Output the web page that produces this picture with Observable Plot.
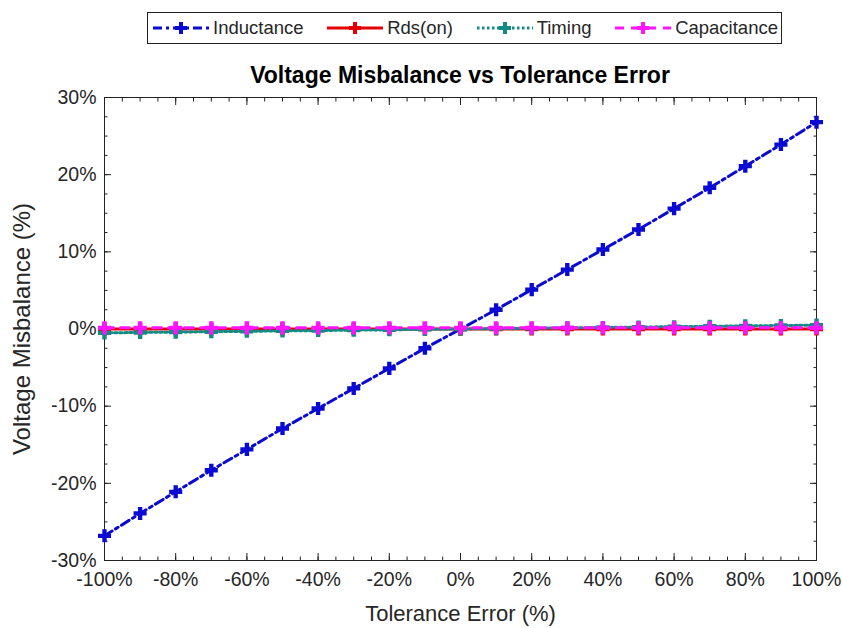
<!DOCTYPE html>
<html><head><meta charset="utf-8">
<script src="https://cdn.jsdelivr.net/npm/d3@7"></script>
<script src="https://cdn.jsdelivr.net/npm/@observablehq/plot@0.6"></script>
<style>
body{margin:0;background:#fff;font-family:"Liberation Sans",Arial,sans-serif;color:#262626;}
#wrap{width:843px;position:relative;}
#header{height:87px;position:relative;}
#legend{position:absolute;left:147px;top:12px;width:627px;height:30px;border:1px solid #222;display:flex;align-items:center;justify-content:space-between;box-sizing:content-box;padding:0 3px 0 3px;}
.item{display:flex;align-items:center;font-size:18.5px;white-space:nowrap;}
.item svg{margin-right:2px;}
#title{position:absolute;left:0;width:920px;top:61px;text-align:center;font-weight:bold;font-size:23px;line-height:28px;color:#000;}
g[aria-label="y-axis label"] text{font-size:24px;}
g[aria-label="x-axis label"] text{font-size:22px;}
</style></head>
<body><div id="wrap"><div id="header"><div id="legend"></div><div id="title">Voltage Misbalance vs Tolerance Error</div></div><div id="chart"></div></div>
<script>
const tolerance   = [-100,-90,-80,-70,-60,-50,-40,-30,-20,-10,0,10,20,30,40,50,60,70,80,90,100];
const inductance  = [-26.8,-23.9,-21.1,-18.3,-15.6,-12.9,-10.3,-7.7,-5.1,-2.5,0,2.5,5.1,7.7,10.3,12.9,15.6,18.3,21.1,23.9,26.8];
const rdsOn       = [0,0,0,0,0,0,0,0,0,0,0,0,0,0,0,0,0,0,0,0,0];
const timing      = [-0.5,-0.45,-0.4,-0.35,-0.3,-0.25,-0.2,-0.15,-0.1,-0.05,0,0.05,0.1,0.15,0.2,0.25,0.3,0.35,0.4,0.45,0.5];
const capacitance = [0.15,0.15,0.15,0.15,0.15,0.15,0.15,0.15,0.15,0.15,0.15,0.15,0.15,0.15,0.15,0.15,0.15,0.15,0.15,0.15,0.15];
const seriesNames = ["Inductance","Rds(on)","Timing","Capacitance"];
const seriesValues = [inductance, rdsOn, timing, capacitance];
const seriesColors = ["#0a0ad2","#e60000","#138a84","#ff14ff"];
const seriesDash = ["9,4,3,4","none","2.5,2.5","9,7"];
const xTicks = [-100,-80,-60,-40,-20,0,20,40,60,80,100];
const yTicks = [-30,-20,-10,0,10,20,30];
const xMinor = d3.range(-100,100.1,5);
const yMinor = d3.range(-30,30.1,2.5);

const rows = seriesNames.flatMap((name,i)=>tolerance.map((t,j)=>({series:name,x:t,y:seriesValues[i][j]})));

// legend
const legend = document.getElementById("legend");
seriesNames.forEach((name,i)=>{
  const it = document.createElement("div"); it.className="item";
  const dash = seriesDash[i]==="none"?"":`stroke-dasharray="${seriesDash[i]}"`;
  it.innerHTML = `<svg width="60" height="20"><line x1="2" x2="58" y1="10" y2="10" stroke="${seriesColors[i]}" stroke-width="3" ${dash}/><path transform="translate(30,10)" d="${d3.symbol(d3.symbolCross,80)()}" fill="${seriesColors[i]}"/></svg><span>${name}</span>`;
  legend.appendChild(it);
});

const marks = [];
marks.push(Plot.frame({stroke:"#222", strokeWidth:1}));
for (const anchor of ["left","right"]) {
  marks.push(Plot.axisY(yMinor,{anchor, tickSize:-3.5, text:null, label:null, stroke:"#222"}));
  marks.push(Plot.axisY(yTicks,{anchor, tickSize:-7, text:null, label:null, stroke:"#222"}));
}
for (const anchor of ["bottom","top"]) {
  marks.push(Plot.axisX(xMinor,{anchor, tickSize:-3.5, text:null, label:null, stroke:"#222"}));
  marks.push(Plot.axisX(xTicks,{anchor, tickSize:-7, text:null, label:null, stroke:"#222"}));
}
marks.push(Plot.axisY(yTicks,{anchor:"left", tickSize:0, tickPadding:8, tickFormat:d=>d+"%", label:"Voltage Misbalance (%)", labelAnchor:"center", labelArrow:"none", labelOffset:92, fill:"#262626", fontSize:19.5}));
marks.push(Plot.axisX(xTicks,{anchor:"bottom", tickSize:0, tickPadding:12, tickFormat:d=>d+"%", label:"Tolerance Error (%)", labelAnchor:"center", labelArrow:"none", labelOffset:60, fill:"#262626", fontSize:19.5}));
seriesNames.forEach((name,i)=>{
  const d = rows.filter(r=>r.series===name);
  marks.push(Plot.line(d,{x:"x",y:"y",stroke:seriesColors[i],strokeWidth:3,strokeDasharray:seriesDash[i]==="none"?null:seriesDash[i]}));
  marks.push(Plot.dot(d,{x:"x",y:"y",symbol:"cross",fill:seriesColors[i],r:5.5}));
});

const chart = Plot.plot({
  width:843, height:541,
  marginLeft:104, marginRight:27, marginTop:10, marginBottom:68,
  x:{domain:[-100,100]}, y:{domain:[-30,30]},
  style:{fontFamily:"'Liberation Sans',Arial,sans-serif", fontSize:"17px", color:"#262626", background:"#fff", overflow:"visible"},
  marks
});
document.getElementById("chart").appendChild(chart);
</script></body></html>
